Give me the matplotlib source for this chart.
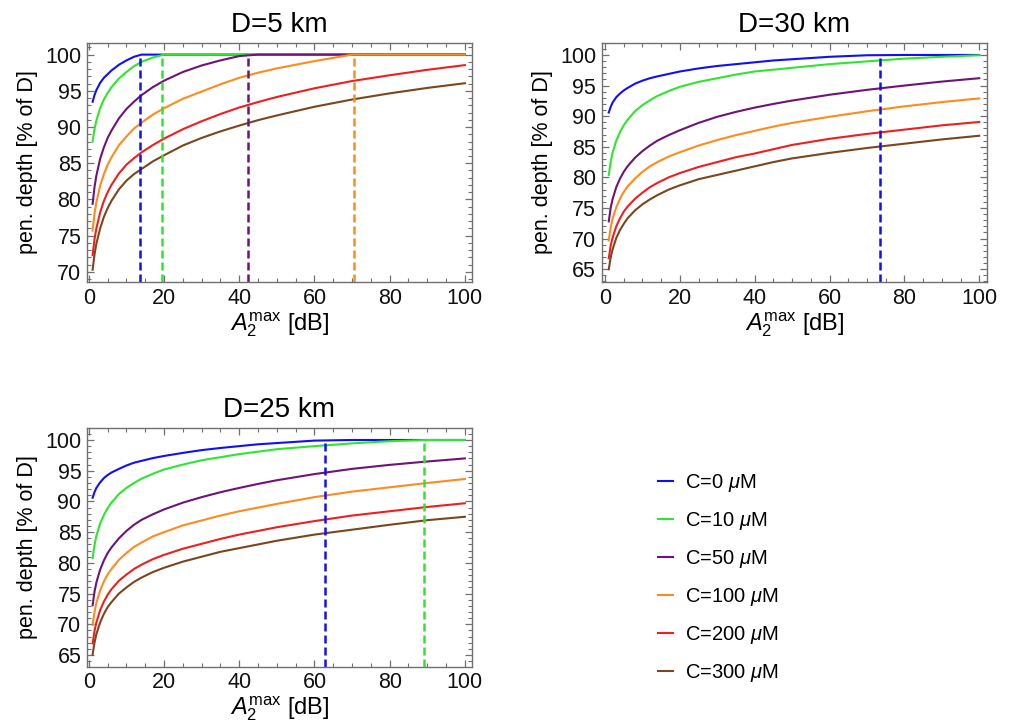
import numpy as np
import matplotlib
matplotlib.use("Agg")
import matplotlib.pyplot as plt
from matplotlib.ticker import MultipleLocator

plt.rcParams['font.family'] = ['Liberation Sans', 'DejaVu Sans']
plt.rcParams['mathtext.fontset'] = 'custom'
plt.rcParams['mathtext.rm'] = 'Liberation Sans'
plt.rcParams['mathtext.it'] = 'Liberation Sans:italic'

# -----------------------------
# Data
# -----------------------------
a2max = [1, 1.5, 2, 3, 4, 5, 6, 8, 10, 12, 14, 17, 20, 25, 30, 35, 40, 45, 50, 60, 70, 80, 90, 100]

conc_labels = [r'C=0 $\mathit{\mu}$M', r'C=10 $\mathit{\mu}$M', r'C=50 $\mathit{\mu}$M',
               r'C=100 $\mathit{\mu}$M', r'C=200 $\mathit{\mu}$M', r'C=300 $\mathit{\mu}$M']
colors = ['#1010f5', '#2ee62e', '#6e1478', '#ff8a1e', '#f01e1e', '#7a461e']

# D = 5 km
d5_c0 = [93.5, 94.4, 95.1, 96.1, 96.8, 97.3, 97.8, 98.6, 99.2, 99.7, 100, 100, 100, 100, 100, 100, 100, 100, 100, 100, 100, 100, 100, 100]
d5_c10 = [88.0, 89.7, 90.9, 92.6, 93.8, 94.7, 95.5, 96.7, 97.6, 98.4, 99.0, 99.6, 100, 100, 100, 100, 100, 100, 100, 100, 100, 100, 100, 100]
d5_c50 = [79.4, 81.7, 83.3, 85.6, 87.2, 88.5, 89.5, 91.2, 92.5, 93.5, 94.4, 95.5, 96.4, 97.6, 98.5, 99.2, 99.8, 100, 100, 100, 100, 100, 100, 100]
d5_c100 = [75.7, 78.0, 79.6, 81.9, 83.5, 84.8, 85.8, 87.5, 88.7, 89.8, 90.6, 91.7, 92.6, 93.9, 94.9, 95.9, 96.8, 97.5, 98.1, 99.1, 100, 100, 100, 100]
d5_c200 = [72.3, 74.5, 76.0, 78.2, 79.8, 81.0, 82.0, 83.6, 84.8, 85.7, 86.5, 87.5, 88.4, 89.7, 90.8, 91.8, 92.7, 93.45, 94.15, 95.35, 96.35, 97.15, 97.9, 98.55]
d5_c300 = [70.3, 72.4, 73.9, 76.0, 77.6, 78.8, 79.8, 81.4, 82.6, 83.5, 84.2, 85.25, 86.1, 87.45, 88.5, 89.4, 90.2, 90.95, 91.6, 92.8, 93.8, 94.65, 95.4, 96.05]
d5_sat = [13.7, 19.5, 42.2, 70.5]

# D = 30 km
d30_c0 = [90.6, 91.5, 92.2, 93.1, 93.7, 94.2, 94.6, 95.3, 95.8, 96.2, 96.5, 96.9, 97.3, 97.8, 98.2, 98.5, 98.8, 99.1, 99.3, 99.7, 99.95, 100, 100, 100]
d30_c10 = [80.4, 82.5, 84.0, 86.0, 87.4, 88.5, 89.4, 90.8, 91.8, 92.6, 93.3, 94.1, 94.8, 95.6, 96.2, 96.8, 97.3, 97.6, 97.9, 98.5, 98.95, 99.4, 99.7, 99.95]
d30_c50 = [72.8, 75.0, 76.4, 78.4, 79.8, 80.9, 81.8, 83.2, 84.3, 85.2, 86.0, 86.9, 87.7, 88.9, 89.9, 90.7, 91.4, 92.0, 92.55, 93.5, 94.3, 95.0, 95.65, 96.2]
d30_c100 = [69.7, 71.8, 73.2, 75.1, 76.5, 77.6, 78.5, 79.8, 80.9, 81.8, 82.5, 83.4, 84.1, 85.2, 86.1, 86.9, 87.6, 88.3, 88.9, 89.9, 90.8, 91.6, 92.3, 92.9]
d30_c200 = [66.8, 68.8, 70.1, 72.0, 73.3, 74.4, 75.2, 76.5, 77.5, 78.4, 79.1, 80.0, 80.7, 81.7, 82.5, 83.3, 83.9, 84.6, 85.3, 86.3, 87.1, 87.8, 88.5, 89.05]
d30_c300 = [65.0, 66.9, 68.2, 70.1, 71.4, 72.4, 73.3, 74.6, 75.6, 76.4, 77.1, 78.0, 78.7, 79.7, 80.4, 81.1, 81.8, 82.5, 83.1, 84.0, 84.8, 85.5, 86.2, 86.8]
d30_sat = [73.6]

# D = 25 km
d25_c0 = [90.6, 91.5, 92.2, 93.1, 93.8, 94.3, 94.7, 95.3, 95.85, 96.3, 96.6, 97.05, 97.4, 97.9, 98.35, 98.7, 99.0, 99.3, 99.5, 99.9, 100, 100, 100, 100]
d25_c10 = [80.8, 82.9, 84.4, 86.4, 87.8, 88.9, 89.8, 91.2, 92.2, 93.0, 93.7, 94.5, 95.2, 96.0, 96.7, 97.2, 97.7, 98.1, 98.5, 99.0, 99.45, 99.8, 100, 100]
d25_c50 = [73.1, 75.3, 76.8, 78.9, 80.4, 81.6, 82.5, 84.0, 85.2, 86.2, 87.0, 87.9, 88.7, 89.8, 90.7, 91.5, 92.2, 92.85, 93.45, 94.45, 95.3, 95.95, 96.5, 97.0]
d25_c100 = [69.9, 72.0, 73.5, 75.5, 77.0, 78.1, 79.0, 80.5, 81.6, 82.6, 83.3, 84.3, 85.0, 86.1, 86.9, 87.7, 88.4, 89.0, 89.6, 90.7, 91.6, 92.3, 93.0, 93.65]
d25_c200 = [66.9, 68.9, 70.3, 72.3, 73.7, 74.8, 75.7, 77.1, 78.1, 79.0, 79.7, 80.6, 81.3, 82.3, 83.1, 83.9, 84.6, 85.2, 85.8, 86.8, 87.7, 88.4, 89.1, 89.7]
d25_c300 = [65.1, 67.0, 68.4, 70.3, 71.7, 72.8, 73.6, 75.0, 76.0, 76.9, 77.6, 78.5, 79.2, 80.2, 81.0, 81.8, 82.4, 83.0, 83.6, 84.6, 85.4, 86.2, 86.95, 87.5]
d25_sat = [62.7, 89.1]

# -----------------------------
# Plotting
# -----------------------------
fig = plt.figure(figsize=(10.09, 7.28), dpi=100)

ax1 = fig.add_axes([0.0862, 0.6126, 0.3816, 0.3283])
ax2 = fig.add_axes([0.5963, 0.6126, 0.3816, 0.3283])
ax3 = fig.add_axes([0.0862, 0.0842, 0.3816, 0.3283])

panels = [
    (ax1, "D=5 km", [d5_c0, d5_c10, d5_c50, d5_c100, d5_c200, d5_c300], d5_sat, (-0.5, 101.9), (68.6, 101.6), 70),
    (ax2, "D=30 km", [d30_c0, d30_c10, d30_c50, d30_c100, d30_c200, d30_c300], d30_sat, (-0.9, 102.0), (62.9, 101.95), 65),
    (ax3, "D=25 km", [d25_c0, d25_c10, d25_c50, d25_c100, d25_c200, d25_c300], d25_sat, (-0.5, 101.9), (63.1, 102.0), 65),
]

for ax, title, series, sat, xlim, ylim, ymin_tick in panels:
    for i, ys in enumerate(series):
        ax.plot(a2max, ys, color=colors[i], lw=1.5, label=conc_labels[i])
    # dashed markers where a curve first reaches 100 %
    for i, xs in enumerate(sat):
        ax.vlines(xs, ylim[0], 100, colors=colors[i], linestyles=(0, (3.2, 1.6)), lw=1.8)

    ax.set_xlim(*xlim)
    ax.set_ylim(*ylim)
    ax.set_xticks(np.arange(0, 101, 20))
    ax.set_yticks(np.arange(ymin_tick, 101, 5))
    ax.xaxis.set_minor_locator(MultipleLocator(5))
    ax.yaxis.set_minor_locator(MultipleLocator(1))
    ax.tick_params(which='both', direction='in', top=True, right=True, color='#707070',
                   labelsize=15.5, pad=4, labelcolor='#111111')
    ax.tick_params(which='major', length=5, width=0.9)
    ax.tick_params(which='minor', length=2.8, width=0.8)
    for sp in ax.spines.values():
        sp.set_color('#707070')
        sp.set_linewidth(1.0)

    ax.set_title(title, fontsize=20, pad=8)
    ax.set_xlabel(r'$\mathit{A}_2^{\mathrm{max}}$ [dB]', fontsize=17, labelpad=1)
    ax.set_ylabel("pen. depth [% of D]", fontsize=15.5)
    ax.yaxis.set_label_coords(-0.127, 0.5)

handles, labels = ax1.get_legend_handles_labels()
fig.legend(handles, labels, loc='upper left', bbox_to_anchor=(0.652, 0.352),
           frameon=False, fontsize=14.5, handlelength=0.75, handletextpad=0.6,
           labelspacing=0.8, borderpad=0, borderaxespad=0)

fig.savefig("out.png", dpi=100)
